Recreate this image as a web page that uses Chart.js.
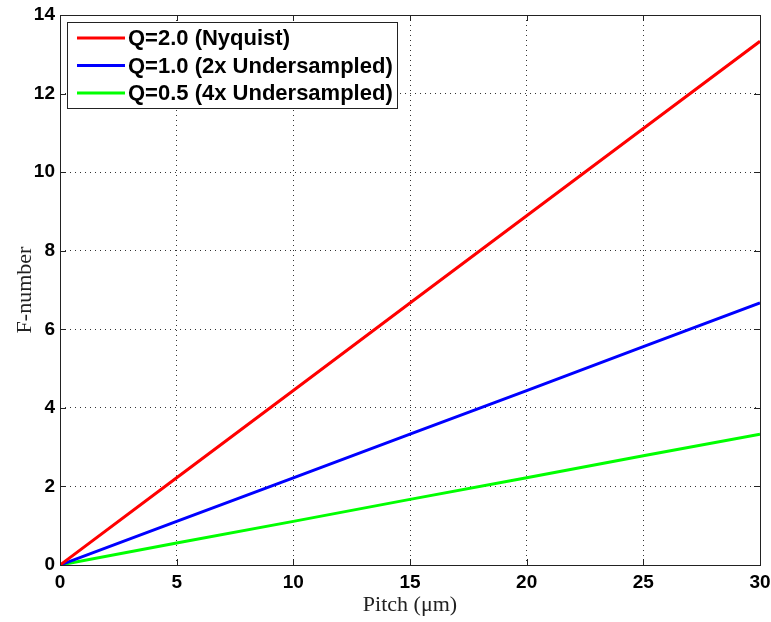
<!DOCTYPE html>
<html>
<head>
<meta charset="utf-8">
<script src="https://cdn.jsdelivr.net/npm/chart.js@4.4.0/dist/chart.umd.min.js"></script>
<style>
html,body{margin:0;padding:0;background:#fff;}
canvas{display:block;}
</style>
</head>
<body>
<canvas id="c" width="771" height="622"></canvas>
<script>
const pitch = [0, 5, 10, 15, 20, 25, 30];
const fNyquist = [0, 2.22, 4.44, 6.67, 8.89, 11.11, 13.33];
const f2x = [0, 1.11, 2.22, 3.33, 4.44, 5.56, 6.67];
const f4x = [0, 0.56, 1.11, 1.67, 2.22, 2.78, 3.33];
const seriesLabels = ['Q=2.0 (Nyquist)', 'Q=1.0 (2x Undersampled)', 'Q=0.5 (4x Undersampled)'];
const seriesColors = ['#ff0000', '#0000ff', '#00ff00'];
const xTitle = 'Pitch (\u03bcm)';
const yTitle = 'F-number';

function pts(xs, ys){ return xs.map((x,i)=>({x:x, y:ys[i]})); }

const boxPlugin = {
  id: 'boxTicks',
  afterDatasetsDraw(chart){
    const ctx = chart.ctx, a = chart.chartArea;
    const xs = chart.scales.x, ys = chart.scales.y;
    ctx.save();
    ctx.strokeStyle = '#222';
    ctx.lineWidth = 1;
    ctx.beginPath();
    const L = 6;
    xs.ticks.forEach(t=>{
      const px = Math.round(xs.getPixelForValue(t.value)) + 0.5;
      ctx.moveTo(px, a.bottom); ctx.lineTo(px, a.bottom - L);
      ctx.moveTo(px, a.top); ctx.lineTo(px, a.top + L);
    });
    ys.ticks.forEach(t=>{
      const py = Math.round(ys.getPixelForValue(t.value)) + 0.5;
      ctx.moveTo(a.left, py); ctx.lineTo(a.left + L, py);
      ctx.moveTo(a.right, py); ctx.lineTo(a.right - L, py);
    });
    ctx.stroke();
    ctx.strokeRect(Math.round(a.left)+0.5, Math.round(a.top)+0.5, Math.round(a.right-a.left), Math.round(a.bottom-a.top));
    // legend
    const lx = a.left + 7, ly = a.top + 7, lw = 330, lh = 86;
    ctx.fillStyle = '#fff';
    ctx.fillRect(lx, ly, lw, lh);
    ctx.strokeStyle = '#222';
    ctx.strokeRect(lx+0.5, ly+0.5, lw, lh);
    ctx.font = 'bold 22px "Liberation Sans", Arial, sans-serif';
    ctx.textBaseline = 'middle';
    chart.data.datasets.forEach((ds, i)=>{
      const cy = ly + 16 + i*27.5;
      ctx.strokeStyle = ds.borderColor;
      ctx.lineWidth = 3;
      ctx.beginPath();
      ctx.moveTo(lx + 10, cy); ctx.lineTo(lx + 58, cy);
      ctx.stroke();
      ctx.fillStyle = '#000';
      ctx.fillText(ds.label, lx + 61, cy + 1);
    });
    ctx.restore();
  }
};

new Chart(document.getElementById('c'), {
  type: 'line',
  data: {
    datasets: [
      {label: seriesLabels[0], data: pts(pitch, fNyquist), borderColor: seriesColors[0]},
      {label: seriesLabels[1], data: pts(pitch, f2x), borderColor: seriesColors[1]},
      {label: seriesLabels[2], data: pts(pitch, f4x), borderColor: seriesColors[2]}
    ].map(d=>Object.assign(d, {borderWidth: 3, pointRadius: 0, tension: 0, fill: false}))
  },
  options: {
    responsive: false,
    animation: false,
    devicePixelRatio: 1,
    layout: {padding: {top: 15, right: 11, left: 0, bottom: 0}},
    plugins: {legend: {display: false}, tooltip: {enabled: false}},
    scales: {
      x: {
        type: 'linear', min: 0, max: 30,
        ticks: {stepSize: 5, color: '#000', padding: 6, font: {family: '"Liberation Sans", Arial, sans-serif', weight: 'bold', size: 19}},
        grid: {color: '#333', lineWidth: 1, drawTicks: false},
        border: {display: false, dash: [1, 4]},
        title: {display: true, text: xTitle, color: '#222', padding: {top: 0}, font: {family: '"Liberation Serif", "Times New Roman", serif', size: 22}},
        afterFit(s){ s.height = 57; s.paddingLeft = 0; s.paddingRight = 0; }
      },
      y: {
        type: 'linear', min: 0, max: 14,
        ticks: {stepSize: 2, color: '#000', padding: 5, font: {family: '"Liberation Sans", Arial, sans-serif', weight: 'bold', size: 19}},
        grid: {color: '#333', lineWidth: 1, drawTicks: false},
        border: {display: false, dash: [1, 4]},
        title: {display: true, text: yTitle, color: '#222', padding: {top: 12, bottom: 0}, font: {family: '"Liberation Serif", "Times New Roman", serif', size: 22}},
        afterFit(s){ s.width = 60; s.paddingTop = 0; s.paddingBottom = 0; }
      }
    }
  },
  plugins: [boxPlugin]
});
</script>
</body>
</html>
